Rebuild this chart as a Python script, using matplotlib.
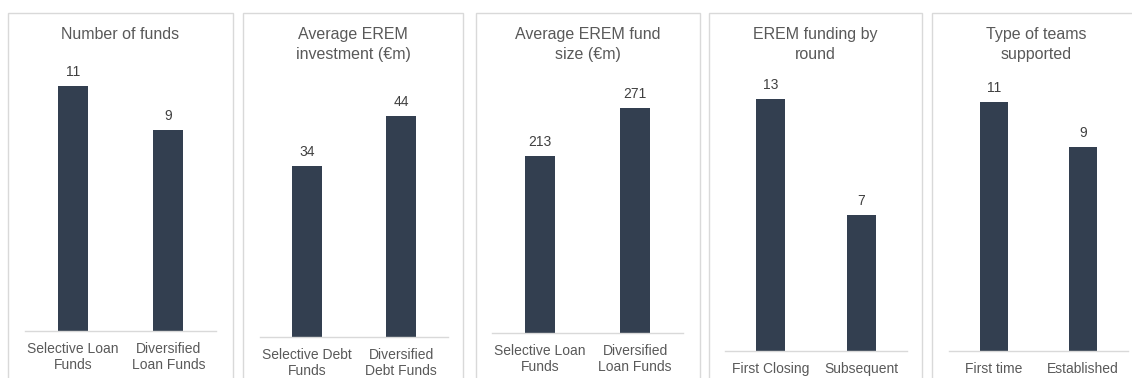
import matplotlib
matplotlib.use("Agg")
import matplotlib.pyplot as plt
from matplotlib.patches import Rectangle

plt.rcParams["font.family"] = ["Liberation Sans", "DejaVu Sans"]

# chart data
titles = [
    "Number of funds",
    "Average EREM\ninvestment (€m)",
    "Average EREM fund\nsize (€m)",
    "EREM funding by\nround",
    "Type of teams\nsupported",
]
categories = [
    ["Selective Loan\nFunds", "Diversified\nLoan Funds"],
    ["Selective Debt\nFunds", "Diversified\nDebt Funds"],
    ["Selective Loan\nFunds", "Diversified\nLoan Funds"],
    ["First Closing", "Subsequent"],
    ["First time", "Established"],
]
values = [
    [11, 9],
    [34, 44],
    [213, 271],
    [13, 7],
    [11, 9],
]

# layout in pixels: panel frame, axis span, baseline, pixels per unit
W, H = 1132, 378
frames = [(8, 233), (243, 463), (476, 700), (709, 922), (932, 1140)]
spans = [(25, 216), (260, 448), (492, 683), (725, 907), (949, 1128)]
baselines = [331, 337, 333, 351, 351]
scales = [22.3, 5.03, 0.830, 19.4, 22.65]
TOP = 13

BAR = "#333f50"
GRID = "#d9d9d9"
TEXT = "#595959"

fig = plt.figure(figsize=(W / 100, H / 100), dpi=100)

for i in range(5):
    left, right = frames[i]
    # light grey panel frame, open at the bottom edge
    fig.patches.append(Rectangle((left / W, -0.1), (right - left) / W, 1 - TOP / H + 0.1,
                                 transform=fig.transFigure, fill=False,
                                 edgecolor=GRID, linewidth=1))

    fig.text((left + right) / 2 / W, 1 - 27 / H, titles[i], ha="center", va="top",
             fontsize=11.5, color=TEXT, linespacing=1.45)

    x0, x1 = spans[i]
    base = baselines[i]
    ax = fig.add_axes([x0 / W, 1 - base / H, (x1 - x0) / W, (base - TOP) / H])
    ax.set_facecolor("none")
    bars = ax.bar(range(2), values[i], width=0.31, color=BAR)
    for b, v in zip(bars, values[i]):
        ax.annotate(str(v), (b.get_x() + b.get_width() / 2, v), xytext=(0, 5),
                    textcoords="offset points", ha="center", va="bottom",
                    fontsize=10, color="#404040")
    ax.set_xlim(-0.5, 1.5)
    ax.set_ylim(0, (base - TOP) / scales[i])
    ax.set_xticks(range(2))
    ax.set_xticklabels(categories[i], fontsize=10, color=TEXT, linespacing=1.2)
    ax.tick_params(axis="x", length=0, pad=8)
    ax.set_yticks([])
    for s in ["top", "left", "right"]:
        ax.spines[s].set_visible(False)
    ax.spines["bottom"].set_color(GRID)
    ax.spines["bottom"].set_linewidth(1)

fig.savefig("out.png", dpi=100)
